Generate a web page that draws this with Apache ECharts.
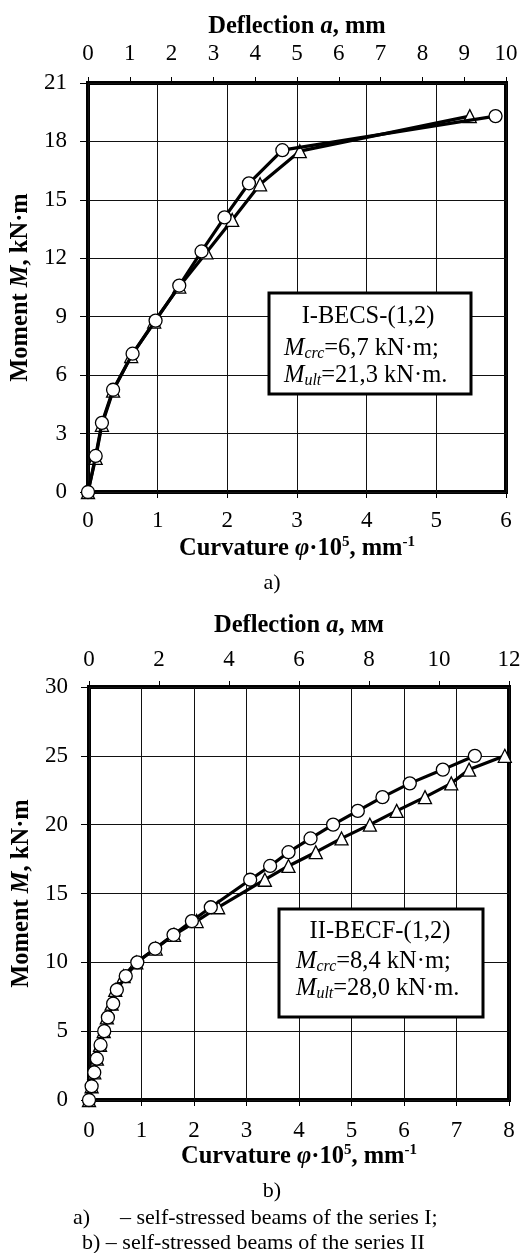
<!DOCTYPE html>
<html>
<head>
<meta charset="utf-8">
<script src="https://cdn.jsdelivr.net/npm/echarts@6/dist/echarts.min.js"></script>
<style>
  html, body { margin: 0; padding: 0; background: #fff; }
  #chart { width: 524px; height: 1253px; }
</style>
</head>
<body>
<div id="chart"></div>
<script>
// series I (top) - curvature phi*10^5, mm^-1 / moment kN*m
const curvI_circ = [0, 0.11, 0.2, 0.36, 0.64, 0.97, 1.31, 1.63, 1.96, 2.31, 2.79, 5.85]
const momI_circ = [0, 1.85, 3.55, 5.25, 7.1, 8.8, 10.6, 12.35, 14.1, 15.85, 17.55, 19.3]
const curvI_tri = [0, 0.11, 0.2, 0.36, 0.62, 0.95, 1.31, 1.7, 2.07, 2.47, 3.04, 5.48]
const momI_tri = [0, 1.75, 3.45, 5.2, 6.98, 8.75, 10.55, 12.3, 13.97, 15.8, 17.5, 19.3]

// series II (bottom)
const curvII_circ = [0, 0.05, 0.1, 0.15, 0.22, 0.29, 0.36, 0.46, 0.53, 0.7, 0.92, 1.26, 1.61,
  1.96, 2.32, 3.07, 3.45, 3.8, 4.22, 4.65, 5.12, 5.59, 6.11, 6.74, 7.35]
const momII_circ = [0, 1, 2, 3, 4, 5, 6, 7, 8, 9, 10, 11, 12, 13, 14, 16, 17, 18, 19, 20, 21, 22, 23, 24, 25]
const curvII_tri = [0, 0.05, 0.1, 0.15, 0.21, 0.28, 0.34, 0.43, 0.5, 0.66, 0.9, 1.27, 1.62,
  2.05, 2.46, 3.35, 3.8, 4.32, 4.81, 5.35, 5.86, 6.4, 6.9, 7.24, 7.92]
const momII_tri = [0, 1, 2, 3, 4, 5, 6, 7, 8, 9, 10, 11, 12, 13, 14, 16, 17, 18, 19, 20, 21, 22, 23, 24, 25]

// axis ranges
const curvMaxI = 6, deflMaxI = 10, momMaxI = 21, momStepI = 3
const curvMaxII = 8, deflMaxII = 12, deflStepII = 2, momMaxII = 30, momStepII = 5

const FONT = 'Liberation Serif'
const pairs = (xs, ys) => xs.map((x, i) => [x, ys[i]])

const rich = {
  b: { fontFamily: FONT, fontSize: 24.5, fontWeight: 'bold', color: '#000', lineHeight: 28 },
  bi: { fontFamily: FONT, fontSize: 24.5, fontWeight: 'bold', fontStyle: 'italic', color: '#000', lineHeight: 28 },
  sup: { fontFamily: FONT, fontSize: 15, fontWeight: 'bold', color: '#000', lineHeight: 28, verticalAlign: 'top' },
}
const boxRich = {
  r: { fontFamily: FONT, fontSize: 24.5, color: '#000', lineHeight: 26 },
  i: { fontFamily: FONT, fontSize: 24.5, fontStyle: 'italic', color: '#000', lineHeight: 26 },
  sub: { fontFamily: FONT, fontSize: 16, fontStyle: 'italic', color: '#000', lineHeight: 26, verticalAlign: 'bottom' },
}

const labelStyle = (margin) => ({ fontFamily: FONT, fontSize: 23, color: '#000', margin })
const tick = (len) => ({ show: true, length: len, lineStyle: { color: '#000', width: 1 } })
const split = { show: true, lineStyle: { color: '#111', width: 1 } }

function lineSeries(data, symbol, xi, yi) {
  return {
    type: 'line',
    xAxisIndex: xi,
    yAxisIndex: yi,
    data,
    symbol,
    symbolSize: 13,
    showAllSymbol: true,
    lineStyle: { color: '#000', width: 3.2 },
    itemStyle: { color: '#fff', borderColor: '#000', borderWidth: 1.3 },
    z: symbol === 'circle' ? 3 : 2,
    animation: false,
  }
}

function textEl(x, y, text, richStyle, align, size) {
  return {
    type: 'text',
    x, y, z: 110,
    style: {
      text, rich: richStyle,
      fontFamily: FONT, fontSize: size || 22, fill: '#000',
      align: align || 'center', verticalAlign: 'middle',
    },
  }
}

const chart = echarts.init(document.getElementById('chart'))
chart.setOption({
  backgroundColor: '#fff',
  animation: false,
  grid: [
    { left: 88, top: 83, width: 418, height: 409, show: true, borderColor: '#000', borderWidth: 4, backgroundColor: '#fff' },
    { left: 89, top: 687, width: 420, height: 413, show: true, borderColor: '#000', borderWidth: 4, backgroundColor: '#fff' },
  ],
  xAxis: [
    {
      gridIndex: 0, type: 'value', position: 'bottom', min: 0, max: curvMaxI, interval: 1,
      axisLine: { show: false }, axisTick: tick(6), splitLine: split,
      axisLabel: labelStyle(17),
      name: '{b|Curvature }{bi|φ}{b|·10}{sup|5}{b|, mm}{sup|-1}',
      nameLocation: 'middle', nameGap: 43, nameTextStyle: { rich },
    },
    {
      gridIndex: 0, type: 'value', position: 'top', min: 0, max: deflMaxI, interval: 1,
      axisLine: { show: false }, axisTick: tick(6), splitLine: { show: false },
      axisLabel: labelStyle(18),
      name: '{b|Deflection }{bi|a}{b|, mm}',
      nameLocation: 'middle', nameGap: 42, nameTextStyle: { rich },
    },
    {
      gridIndex: 1, type: 'value', position: 'bottom', min: 0, max: curvMaxII, interval: 1,
      axisLine: { show: false }, axisTick: tick(6), splitLine: split,
      axisLabel: labelStyle(19),
      name: '{b|Curvature }{bi|φ}{b|·10}{sup|5}{b|, mm}{sup|-1}',
      nameLocation: 'middle', nameGap: 36, nameTextStyle: { rich },
    },
    {
      gridIndex: 1, type: 'value', position: 'top', min: 0, max: deflMaxII, interval: deflStepII,
      axisLine: { show: false }, axisTick: tick(6), splitLine: { show: false },
      axisLabel: labelStyle(16),
      name: '{b|Deflection }{bi|a}{b|, мм}',
      nameLocation: 'middle', nameGap: 47, nameTextStyle: { rich },
    },
  ],
  yAxis: [
    {
      gridIndex: 0, type: 'value', min: 0, max: momMaxI, interval: momStepI,
      axisLine: { show: false }, axisTick: tick(8), splitLine: split,
      axisLabel: labelStyle(21),
      name: '{b|Moment }{bi|M}{b|, kN·m}',
      nameLocation: 'middle', nameGap: 48, nameTextStyle: { rich },
    },
    {
      gridIndex: 1, type: 'value', min: 0, max: momMaxII, interval: momStepII,
      axisLine: { show: false }, axisTick: tick(8), splitLine: split,
      axisLabel: labelStyle(21),
      name: '{b|Moment }{bi|M}{b|, kN·m}',
      nameLocation: 'middle', nameGap: 48, nameTextStyle: { rich },
    },
  ],
  series: [
    lineSeries(pairs(curvI_tri, momI_tri), 'triangle', 0, 0),
    lineSeries(pairs(curvI_circ, momI_circ), 'circle', 0, 0),
    lineSeries(pairs(curvII_tri, momII_tri), 'triangle', 2, 1),
    lineSeries(pairs(curvII_circ, momII_circ), 'circle', 2, 1),
  ],
  graphic: [
    // legend box, top chart
    { type: 'rect', z: 100, shape: { x: 269, y: 293, width: 202, height: 101 },
      style: { fill: '#fff', stroke: '#000', lineWidth: 3 } },
    textEl(368, 317, 'I-BECS-(1,2)', null, 'center', 24.5),
    textEl(284, 349, '{i|M}{sub|crc}{r|=6,7 kN·m;}', boxRich, 'left'),
    textEl(284, 376, '{i|M}{sub|ult}{r|=21,3 kN·m.}', boxRich, 'left'),
    // legend box, bottom chart
    { type: 'rect', z: 100, shape: { x: 279, y: 909, width: 204, height: 108 },
      style: { fill: '#fff', stroke: '#000', lineWidth: 3 } },
    textEl(380, 932, 'II-BECF-(1,2)', null, 'center', 24.5),
    textEl(296, 962, '{i|M}{sub|crc}{r|=8,4 kN·m;}', boxRich, 'left'),
    textEl(296, 989, '{i|M}{sub|ult}{r|=28,0 kN·m.}', boxRich, 'left'),
    // captions
    textEl(272, 583, 'a)'),
    textEl(272, 1191, 'b)'),
    textEl(73, 1218, 'a)', null, 'left'),
    textEl(120, 1218, '– self-stressed beams of the series I;', null, 'left'),
    textEl(82, 1243, 'b) – self-stressed beams of the series II', null, 'left'),
  ],
})
</script>
</body>
</html>
